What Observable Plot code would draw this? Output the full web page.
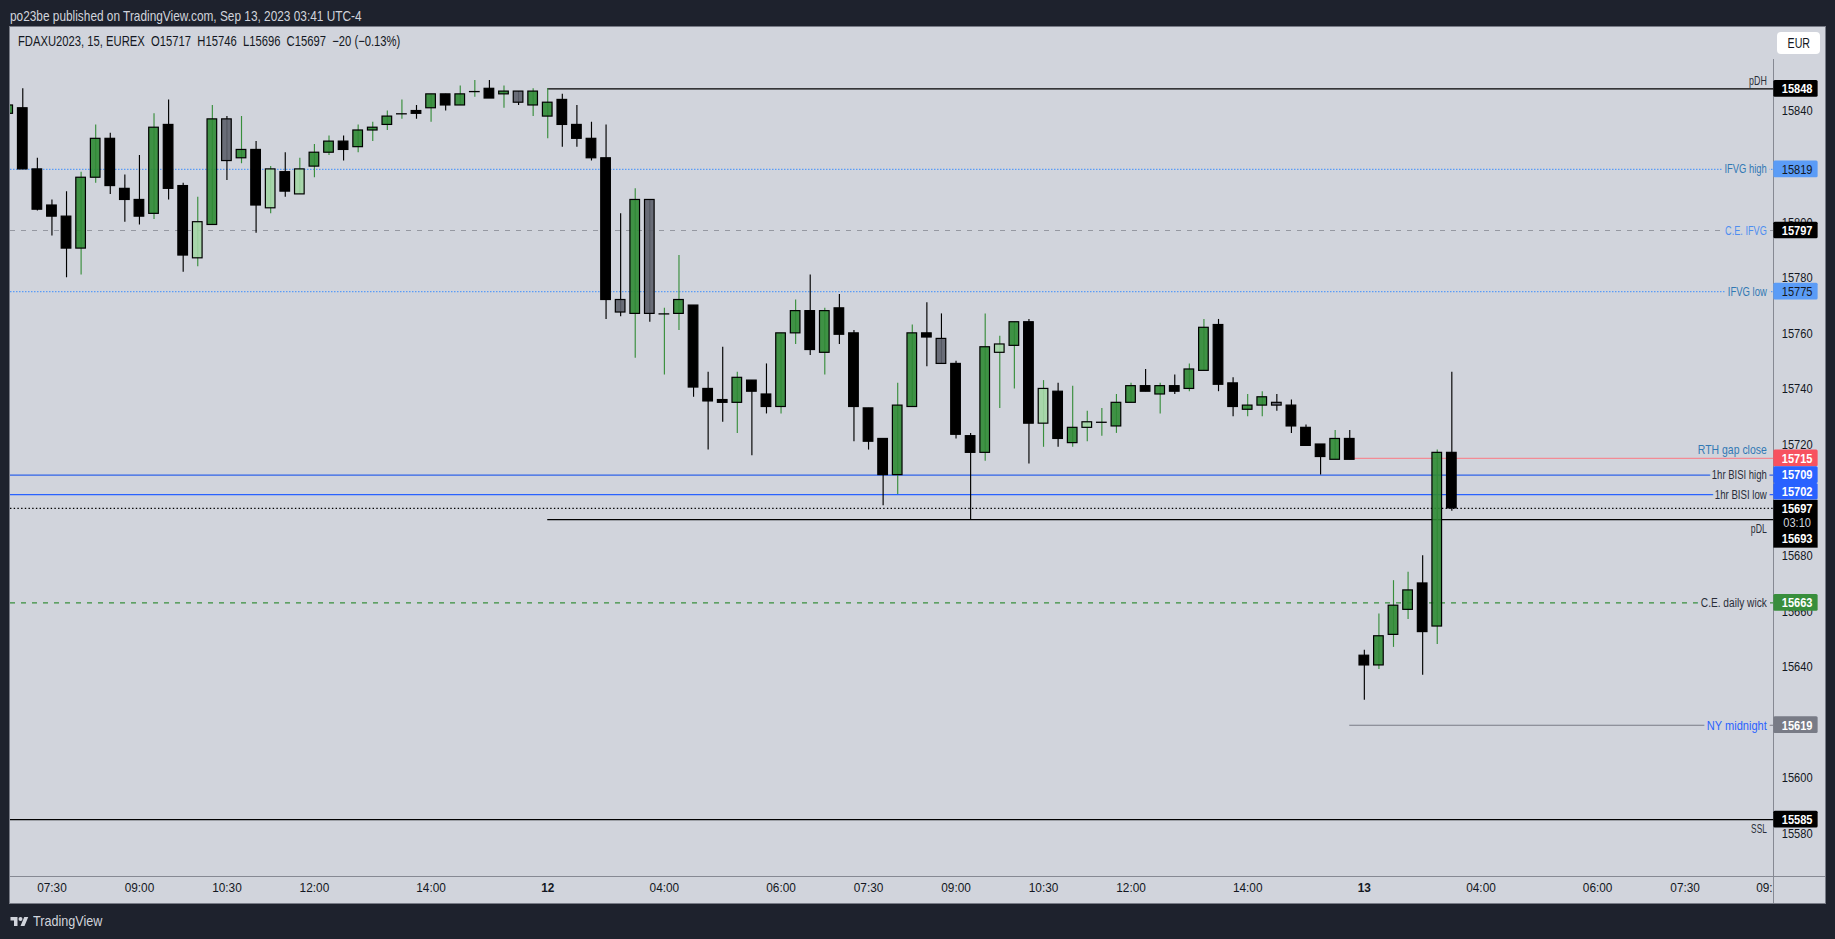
<!DOCTYPE html>
<html><head><meta charset="utf-8">
<script src="https://cdn.jsdelivr.net/npm/d3@7"></script>
<script src="https://cdn.jsdelivr.net/npm/@observablehq/plot@0.6"></script>
<style>
html,body{margin:0;padding:0;background:#1e222d;width:1835px;height:939px;overflow:hidden}
body{position:relative;font-family:"Liberation Sans",sans-serif}
.abs{position:absolute;white-space:pre;transform-origin:left center}
#panel{position:absolute;left:9px;top:26px;width:1815px;height:876px;background:#d1d4dc;border:1px solid #787b86}
#vline{position:absolute;left:1773px;top:59px;width:1px;height:844px;background:#868993}
#hline{position:absolute;left:10px;top:876px;width:1815px;height:1px;background:#868993}
#chart{position:absolute;left:0;top:0}
#eur{position:absolute;left:1777px;top:32px;width:43px;height:22px;background:#fff;border-radius:4px;color:#131722;font-size:14px;line-height:22px;text-align:center}
#eur span{display:inline-block;transform:scaleX(.76)}
</style></head>
<body>
<div id="panel"></div><div id="vline"></div><div id="hline"></div>
<div id="chart"></div>
<div class="abs" style="left:10px;top:7px;font-size:15px;color:#d1d4dc;transform:scaleX(.79)">po23be published on TradingView.com, Sep 13, 2023 03:41 UTC-4</div>
<div class="abs" style="left:18px;top:33px;font-size:14.5px;color:#131722;transform:scaleX(.775)">FDAXU2023, 15, EUREX  O15717  H15746  L15696  C15697  −20 (−0.13%)</div>
<div id="eur"><span>EUR</span></div>
<svg class="abs" style="left:10px;top:915px" width="19" height="12" viewBox="0 0 36 24" fill="#d1d4dc"><path d="M14 22H7V11H0V4h14v18zM28 22h-8l7.5-18h8L28 22z"/><circle cx="20" cy="8" r="4"/></svg>
<div class="abs" style="left:33px;top:912px;font-size:15px;color:#d1d4dc;transform:scaleX(.84)">TradingView</div>
<script>
const opens=[15839,15841,15819,15806,15802,15790.5,15816,15830,15812,15808,
15803,15835,15813,15787,15799,15837,15823,15826,15805,15818,
15810,15820,15825,15829,15827,15833,15835,15839,15840,15841,
15846,15842,15847,15848,15846,15847,15842,15838,15844,15835,
15830,15823,15772,15767,15808,15767,15767,15770,15740,15736,
15735,15743,15738,15733.5,15760,15768,15753,15769,15760,15733,
15722,15709,15733.5,15760,15758,15749,15723,15717,15753,15755.5,
15764,15727.5,15739,15720.5,15726,15728,15726.5,15735,15741,15738,
15741,15740,15746.5,15763,15742,15732.5,15734,15735,15734,15726,
15720,15714.5,15722,15644,15640.5,15651.5,15660.5,15670,15654.5,15717];
const closes=[15842,15819,15804.5,15802,15790.5,15816,15830,15813,15808,15802,
15834,15812,15788,15800,15837,15822,15826,15806,15819,15811,
15819,15825,15829,15826,15833,15834,15838,15839,15839,15846,
15842,15846,15847,15844.5,15847,15843,15847,15843,15835,15830,
15823,15772,15767.5,15808,15767,15767,15772,15740.5,15735.5,15735,
15744,15739,15733.5,15760,15768,15754,15768,15759.5,15733.5,15721,
15709,15734,15760,15758.5,15749,15723.5,15717,15755,15756,15764,
15727.5,15740,15722,15726,15728,15728,15735,15741,15739,15741,
15739,15747,15762,15741.5,15733.5,15734,15737,15734,15726.5,15719.5,
15715.5,15722,15714.5,15640.5,15651,15662,15667.5,15652.5,15717,15697];
const highs=[15842,15848,15823,15808,15811,15818,15835,15832,15817,15824,
15839,15844,15814,15809,15842,15838,15838,15829,15820,15825,
15823,15828,15831,15831,15835,15836,15840,15844,15842,15846,
15846,15849,15851,15851,15849,15847,15848,15848,15846,15842,
15836,15835,15803,15812,15808,15769,15788,15770,15746,15755,
15746,15743,15749,15760,15772,15781,15769,15774,15761,15733,
15722,15742,15763,15771,15767,15750,15724,15767,15759,15764,
15765,15743,15742,15741,15732,15733,15738,15742,15747,15742,
15745,15749,15765,15765,15744,15738,15739,15738,15736,15727,
15720,15725,15725,15646,15659,15671,15674,15680,15718,15746];
const lows=[15839,15819,15804,15795,15780,15781,15814,15810,15800,15799,
15801,15808,15782,15784,15799,15815,15821,15796,15803,15809,
15810,15816,15824,15822,15825,15829,15833,15837,15837,15836,
15840,15842,15845,15844.5,15841,15842,15838,15830,15827,15827,
15822,15765,15766,15751,15764,15745,15761,15737,15718,15728,
15724,15716,15731,15731,15756,15752,15745,15756,15721,15718,
15698,15702,15733.5,15748,15749,15722,15693,15714,15733,15740,
15713,15719,15719,15719,15721,15723,15724,15735,15739,15731,
15738,15739,15746.5,15739,15730,15730,15730,15732,15724,15719.5,
15709,15714.5,15714.5,15628,15639,15647,15657,15637,15648,15696];
const kinds=("g b b b b g g b b b "+"g b b l g s g b l b "+"l g g b g g g g b g "+"b g g b g s g g b b "+
"b b s g s g g b b b "+"g b b g g b g b b b "+"b g g b s b b g l g "+"b l b g l g g g b g "+
"b g g b b g g s b b "+"b g b b g g g b g b").split(" ");
const priceTicks=[15840,15800,15780,15760,15740,15720,15680,15660,15640,15600,15580];
const timeTickBars=[3,9,15,21,29,45,53,59,65,71,77,85,101,109,115];
const timeTickLabels=["07:30","09:00","10:30","12:00","14:00","04:00","06:00","07:30","09:00","10:30","12:00","14:00","04:00","06:00","07:30"];
const dayTickBars=[37,93];
const dayTickLabels=["12","13"];
const levelPrices=[15848,15819,15797,15775,15715,15709,15702,15697,15693,15663,15619,15585];
const levelStartBars=[37,null,null,null,92,null,null,null,37,null,92,null];
const levelLabels=["pDH","IFVG high","C.E. IFVG","IFVG low","RTH gap close","1hr BISI high","1hr BISI low","","pDL","C.E. daily wick","NY midnight","SSL"];
const badgeCentres=[15848,15819,15797,15775,15715,15709,15703,15697,15692,15686,15663,15619,15585];
const badgeTexts=["15848","15819","15797","15775","15715","15709","15702","15697","03:10","15693","15663","15619","15585"];

const COLORS={g:"#2f8a34",l:"#a3d6a5",s:"#5d606b",b:"#000"};
const WICK={g:"#388e3c",l:"#388e3c",s:"#000",b:"#000"};
const LEVEL_STYLE={
 "pDH":{stroke:"#000",strokeWidth:1.3,text:"#2a2e39",dy:-8,size:12.5,w:17.7},
 "IFVG high":{stroke:"#5b9cf6",strokeWidth:1.2,dash:"1.5,1.5",text:"#3179b4",halo:true,size:12.5,w:42.3},
 "C.E. IFVG":{stroke:"#9598a1",strokeWidth:1.1,dash:"5,6",text:"#4f8ef0",halo:true,size:12.5,w:41.7},
 "IFVG low":{stroke:"#5b9cf6",strokeWidth:1.2,dash:"1.5,1.5",text:"#3179b4",halo:true,size:12.5,w:39},
 "RTH gap close":{stroke:"#f28b95",strokeWidth:1.3,text:"#3179b4",dy:-9,size:13.5,w:69},
 "1hr BISI high":{stroke:"#2f63e8",strokeWidth:1.2,text:"#2a2e39",halo:true,size:12.5,w:55},
 "1hr BISI low":{stroke:"#2962ff",strokeWidth:1.2,text:"#2a2e39",halo:true,size:12.5,w:52},
 "":{stroke:"#000",strokeWidth:1.2,dash:"1.4,2.3",text:"#000"},
 "pDL":{stroke:"#000",strokeWidth:1.3,text:"#2a2e39",dy:9,size:12.5,w:16},
 "C.E. daily wick":{stroke:"#388e3c",strokeWidth:1.1,dash:"5,6",text:"#2a2e39",halo:true,size:12.5,w:66},
 "NY midnight":{stroke:"#787b86",strokeWidth:1.1,text:"#2962ff",halo:true,size:13.5,w:60},
 "SSL":{stroke:"#000",strokeWidth:1.3,text:"#2a2e39",dy:9,size:12.5,w:15.7}
};
const BADGE_FILL={"15848":"#000","15819":"#5b9cf6","15797":"#000","15775":"#5b9cf6","15715":"#f7525f","15709":"#2962ff","15702":"#2962ff","15697":"#000","03:10":"#000","15693":"#000","15663":"#388e3c","15619":"#787b86","15585":"#000"};
const BADGE_TEXT={"15819":"#131722","15775":"#131722","03:10":"#d1d4dc"};

const candles=opens.map((o,i)=>({i,o,c:closes[i],h:highs[i],l:lows[i],k:kinds[i]}));
const levels=levelPrices.map((p,n)=>({p,from:levelStartBars[n],label:levelLabels[n],...LEVEL_STYLE[levelLabels[n]]}));
const badges=badgeCentres.map((p,n)=>({p,t:badgeTexts[n],fill:BADGE_FILL[badgeTexts[n]],text:BADGE_TEXT[badgeTexts[n]]||"#fff"}));

const xMin=0.158,xMax=121.08,yMin=15564.55,yMax=15870.06;
const fmtTime=d=>timeTickLabels[timeTickBars.indexOf(d)];
const fmtDay=d=>dayTickLabels[dayTickBars.indexOf(d)];
const FONT='"Liberation Sans",sans-serif';

const marks=[];
for(const l of levels){
  marks.push(Plot.ruleY([l],{y:"p",x1:l.from==null?xMin:l.from,x2:xMax,stroke:l.stroke,strokeWidth:l.strokeWidth,strokeDasharray:l.dash}));
}
marks.push(Plot.ruleX(candles,{x:"i",y1:"l",y2:"h",stroke:d=>WICK[d.k],strokeWidth:1.15,clip:true}));
marks.push(Plot.rect(candles.filter(d=>d.o!==d.c),{x1:d=>d.i-0.33,x2:d=>d.i+0.33,y1:"o",y2:"c",fill:d=>COLORS[d.k],fillOpacity:d=>d.k==="b"?1:0.9,stroke:"#000",strokeWidth:1.2,clip:true}));
marks.push(Plot.ruleY(candles.filter(d=>d.o===d.c),{y:"o",x1:d=>d.i-0.37,x2:d=>d.i+0.37,stroke:"#000",strokeWidth:1.3}));
for(const l of levels.filter(d=>d.label)){
  const halo=l.halo?{stroke:"#d1d4dc",strokeWidth:8}:{};
  marks.push(Plot.text([l],{x:xMax,y:"p",text:"label",textAnchor:"end",dx:-7,dy:l.dy||0,fill:l.text,fontSize:l.size,...halo,className:"lvl"}));
}
marks.push(Plot.axisY({anchor:"right",ticks:priceTicks,tickSize:0,tickPadding:8,tickFormat:d=>String(d),fill:"#131722",fontSize:13.5,label:null,className:"pr"}));
marks.push(Plot.axisX({ticks:timeTickBars,tickSize:0,tickPadding:6,tickFormat:fmtTime,fill:"#131722",fontSize:13,label:null,className:"tm"}));
marks.push(Plot.axisX({ticks:dayTickBars,tickSize:0,tickPadding:6,tickFormat:fmtDay,fill:"#131722",fontSize:13,fontWeight:"bold",label:null,className:"tm"}));
marks.push(Plot.axisX({ticks:[121],tickSize:0,tickPadding:6,tickFormat:()=>"09:",textAnchor:"end",fill:"#131722",fontSize:13,label:null,className:"tm"}));
const tags=badges.filter(d=>!["15697","03:10","15693"].includes(d.t));
marks.push(Plot.rect(tags,{x1:xMax,x2:xMax+3.04,y1:d=>d.p-3,y2:d=>d.p+3,fill:"fill",rx:1.5}));
marks.push(Plot.rect([{top:15699.9,bot:15682.7}],{x1:xMax,x2:xMax+3.04,y1:"bot",y2:"top",fill:"#000"}));
marks.push(Plot.text(badges.filter(d=>d.text==="#fff"),{x:xMax+1.6,y:"p",text:"t",fill:"text",fontSize:13.5,fontWeight:"bold",className:"pr"}));
marks.push(Plot.text(badges.filter(d=>d.text!=="#fff"),{x:xMax+1.6,y:"p",text:"t",fill:"text",fontSize:13.5,className:"pr"}));

const chart=Plot.plot({width:1835,height:939,marginLeft:10,marginRight:61.7,marginTop:27,marginBottom:63,
  x:{domain:[xMin,xMax]},y:{domain:[yMin,yMax]},
  style:{background:"transparent",fontFamily:FONT,overflow:"visible"},marks});
document.getElementById("chart").appendChild(chart);
// The reference's type is narrower than any installed face: condense real text to its measured widths.
const WIDTH_BY_LABEL=Object.fromEntries(levels.filter(d=>d.label).map(d=>[d.label,d.w]));
for(const t of chart.querySelectorAll("text")){
  const len=t.getComputedTextLength(), s=t.textContent;
  let w=len*0.88;
  if(t.closest(".lvl")&&WIDTH_BY_LABEL[s]) w=WIDTH_BY_LABEL[s];
  else if(t.closest(".pr")) w=len*0.82;
  else if(t.closest(".tm")) w=len*0.91;
  t.setAttribute("textLength",w);
  t.setAttribute("lengthAdjust","spacingAndGlyphs");
}
</script>
</body></html>
